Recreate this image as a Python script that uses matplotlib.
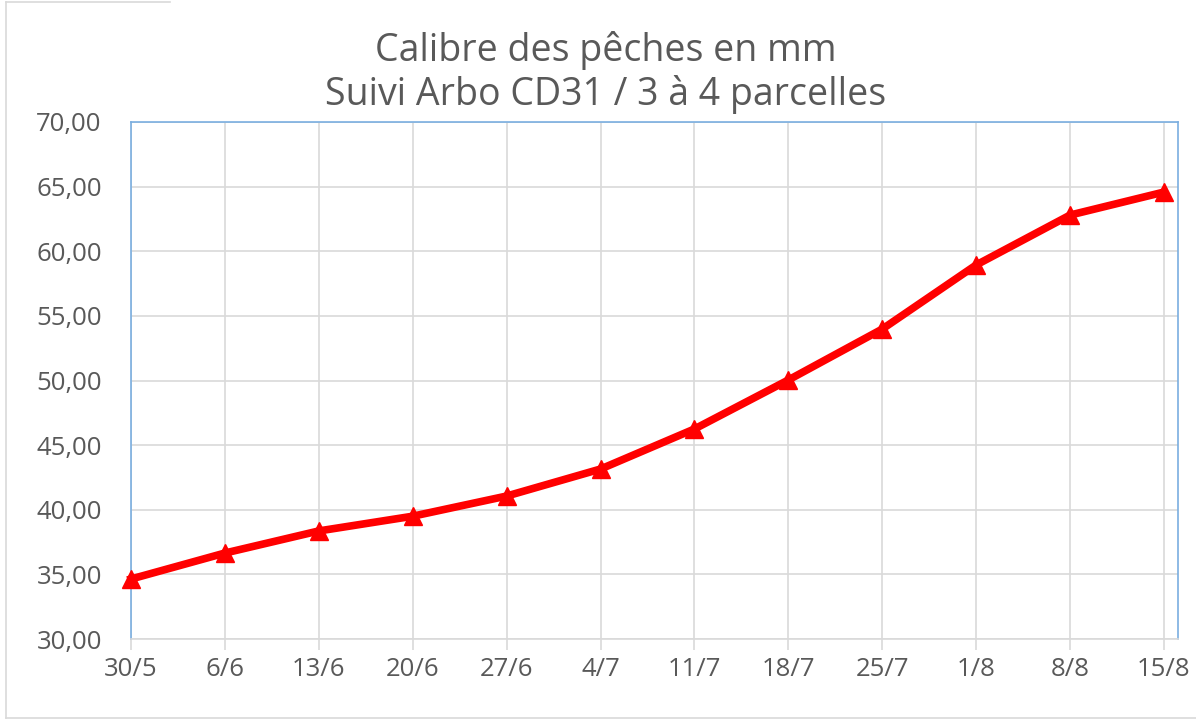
import matplotlib
matplotlib.use("Agg")
import matplotlib.pyplot as plt
from matplotlib.lines import Line2D
from matplotlib.ticker import FuncFormatter

dates = ["30/5", "6/6", "13/6", "20/6", "27/6", "4/7", "11/7",
         "18/7", "25/7", "1/8", "8/8", "15/8"]
calibre = [34.64, 36.65, 38.36, 39.5, 41.06, 43.15, 46.25,
           50.04, 53.98, 58.94, 62.8, 64.58]
yticks = [30, 35, 40, 45, 50, 55, 60, 65, 70]

TXT = "#595959"
GRID = "#d9d9d9"
BLUE = "#7aaee0"

plt.rcParams["font.family"] = ["Open Sans", "DejaVu Sans"]

fig = plt.figure(figsize=(11.96, 7.21), dpi=100)
ax = fig.add_axes([131 / 1196, 1 - 639 / 721, (1178 - 131) / 1196, (639 - 122) / 721])

x = list(range(len(dates)))
ax.plot(x, calibre, color="#ff0000", lw=5.5, marker="^", ms=13,
        solid_joinstyle="round", zorder=3, clip_on=False)

ax.set_xlim(0, 11 + 14 / 94)
ax.set_ylim(30, 70)
ax.set_xticks(x)
ax.set_xticklabels(dates)
ax.set_yticks(yticks)
ax.yaxis.set_major_formatter(FuncFormatter(lambda v, _: f"{v:.2f}".replace(".", ",")))

ax.grid(True, color=GRID, lw=1.2)
ax.set_axisbelow(True)
for side in ("left", "right", "top"):
    ax.spines[side].set_color(BLUE)
    ax.spines[side].set_linewidth(1.2)
ax.spines["bottom"].set_color(GRID)
ax.spines["bottom"].set_linewidth(1.2)

ax.tick_params(axis="x", length=8, width=1.2, color=GRID, labelsize=18.5,
               labelcolor=TXT, pad=5)
ax.tick_params(axis="y", length=0, labelsize=18.5, labelcolor=TXT, pad=21)

cx = 606 / 1196
fig.text(cx, 1 - 50 / 721, "Calibre des pêches en mm",
         ha="center", va="center", fontsize=27, color=TXT)
fig.text(cx, 1 - 94 / 721, "Suivi Arbo CD31 / 3 à 4 parcelles",
         ha="center", va="center", fontsize=27, color=TXT)

# outer chart border (screenshot is cropped)
border = "#d9d9d9"
fig.add_artist(Line2D([6 / 1196, 6 / 1196], [1 - 2 / 721, 1 - 718 / 721],
                      color=border, lw=1.2, transform=fig.transFigure))
fig.add_artist(Line2D([6 / 1196, 170 / 1196], [1 - 2 / 721, 1 - 2 / 721],
                      color=border, lw=1.2, transform=fig.transFigure))
fig.add_artist(Line2D([6 / 1196, 1], [1 - 718 / 721, 1 - 718 / 721],
                      color=border, lw=1.2, transform=fig.transFigure))

fig.savefig("out.png", dpi=100)
